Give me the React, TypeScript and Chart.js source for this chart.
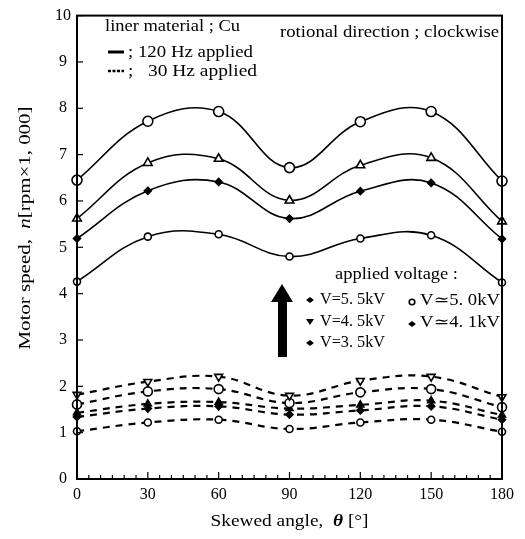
import React, { useEffect, useRef } from "react";
import { Chart, registerables } from "chart.js";
Chart.register(...registerables);

// ---- data ----
const angles = [0, 30, 60, 90, 120, 150, 180];
const xTickStep = 30;
const yTickStep = 1;
// 120 Hz applied (solid)
const s120_55 = [6.45, 7.72, 7.93, 6.72, 7.71, 7.93, 6.43];
const s120_50 = [5.62, 6.82, 6.91, 6.01, 6.77, 6.93, 5.56];
const s120_45 = [5.19, 6.22, 6.41, 5.62, 6.21, 6.39, 5.18];
const s120_35 = [4.26, 5.23, 5.28, 4.8, 5.19, 5.26, 4.24];
// 30 Hz applied (dashed)
const s30_55 = [1.82, 2.1, 2.21, 1.8, 2.12, 2.21, 1.77];
const s30_50 = [1.61, 1.89, 1.94, 1.64, 1.87, 1.94, 1.55];
const s30_45 = [1.43, 1.62, 1.66, 1.52, 1.6, 1.69, 1.38];
const s30_41 = [1.34, 1.52, 1.57, 1.39, 1.48, 1.57, 1.28];
const s30_35 = [1.03, 1.22, 1.28, 1.08, 1.22, 1.28, 1.02];

const SERIF = "'Liberation Serif', 'DejaVu Serif', serif";

function pts(vals: number[]) {
  return vals.map((v, i) => ({ x: angles[i], y: v }));
}

function mkSet(vals: number[], dashed: boolean, style: string, radius: number, fill: string, rotation = 0) {
  return {
    data: pts(vals),
    borderColor: "#000",
    borderWidth: dashed ? 2.2 : 1.6,
    borderDash: dashed ? [7, 6] : [],
    tension: 0.4,
    pointStyle: style,
    pointRadius: radius,
    pointRotation: rotation,
    pointBackgroundColor: fill,
    pointBorderColor: "#000",
    pointBorderWidth: 1.6,
    clip: false as any,
  };
}

type Part = { t: string; f: string };

// draws text parts starting at x (left) or centred at x, stretched horizontally to a target width
function drawFit(ctx: CanvasRenderingContext2D, parts: Part[], x: number, y: number, width: number, center = false) {
  let total = 0;
  for (const p of parts) {
    ctx.font = p.f;
    total += ctx.measureText(p.t).width;
  }
  const sx = width / total;
  ctx.save();
  ctx.translate(center ? x - width / 2 : x, y);
  ctx.scale(sx, 1);
  ctx.textAlign = "left";
  ctx.textBaseline = "middle";
  let cx = 0;
  for (const p of parts) {
    ctx.font = p.f;
    ctx.fillText(p.t, cx, 0);
    cx += ctx.measureText(p.t).width;
  }
  ctx.restore();
}

const F = (s: number, style = "") => `${style} ${s}px ${SERIF}`.trim();

const decor = {
  id: "decor",
  afterDraw(chart: any) {
    const ctx: CanvasRenderingContext2D = chart.ctx;
    const a = chart.chartArea;
    const xs = chart.scales.x;
    const ys = chart.scales.y;
    ctx.save();
    ctx.strokeStyle = "#000";
    ctx.fillStyle = "#000";
    // frame
    ctx.lineWidth = 2;
    ctx.strokeRect(a.left, a.top, a.right - a.left, a.bottom - a.top);
    // inward ticks
    ctx.lineWidth = 1.2;
    for (let v = 0; v <= 180; v += 5) {
      const px = xs.getPixelForValue(v);
      const len = v % xTickStep === 0 ? 7 : 4;
      ctx.beginPath();
      ctx.moveTo(px, a.bottom);
      ctx.lineTo(px, a.bottom - len);
      ctx.stroke();
    }
    for (let v = 0; v <= 10; v += yTickStep) {
      const py = ys.getPixelForValue(v);
      ctx.beginPath();
      ctx.moveTo(a.left, py);
      ctx.lineTo(a.left + 6, py);
      ctx.stroke();
    }
    // axis titles
    ctx.save();
    ctx.translate(26, 228);
    ctx.rotate(-Math.PI / 2);
    drawFit(ctx, [
      { t: "Motor speed,  ", f: F(17) },
      { t: "n", f: F(17, "italic") },
      { t: "[rpm×1, 000]", f: F(17) },
    ], 0, 0, 243, true);
    ctx.restore();
    drawFit(ctx, [
      { t: "Skewed angle,  ", f: F(17) },
      { t: "θ", f: F(17, "bold italic") },
      { t: " [°]", f: F(17) },
    ], (a.left + a.right) / 2, 522, 158, true);

    // annotations
    drawFit(ctx, [{ t: "liner material ; Cu", f: F(17) }], 105, 27, 135);
    drawFit(ctx, [{ t: "rotional direction ; clockwise", f: F(17) }], 280, 33, 219);
    drawFit(ctx, [{ t: "; 120 Hz applied", f: F(17) }], 128, 53, 125);
    drawFit(ctx, [{ t: ";   30 Hz applied", f: F(17) }], 128, 72, 129);
    ctx.lineWidth = 3;
    ctx.beginPath();
    ctx.moveTo(108, 52);
    ctx.lineTo(124, 52);
    ctx.stroke();
    ctx.lineWidth = 2.5;
    ctx.setLineDash([3, 1.5]);
    ctx.beginPath();
    ctx.moveTo(108, 71);
    ctx.lineTo(124, 71);
    ctx.stroke();
    ctx.setLineDash([]);

    drawFit(ctx, [{ t: "applied voltage :", f: F(17) }], 335, 275, 123);
    drawFit(ctx, [{ t: "V=5. 5kV", f: F(16) }], 320, 300, 65);
    drawFit(ctx, [{ t: "V=4. 5kV", f: F(16) }], 320, 322, 65);
    drawFit(ctx, [{ t: "V=3. 5kV", f: F(16) }], 320, 343, 65);
    drawFit(ctx, [{ t: "V≃5. 0kV", f: F(16) }], 420, 301, 80);
    drawFit(ctx, [{ t: "V≃4. 1kV", f: F(16) }], 420, 323, 80);

    // legend glyphs
    const diamond = (x: number, y: number, r: number) => {
      ctx.beginPath();
      ctx.moveTo(x - r * 1.3, y);
      ctx.lineTo(x, y - r);
      ctx.lineTo(x + r * 1.3, y);
      ctx.lineTo(x, y + r);
      ctx.closePath();
      ctx.fill();
    };
    diamond(310, 300, 3);
    ctx.beginPath();
    ctx.moveTo(306, 319);
    ctx.lineTo(314, 319);
    ctx.lineTo(310, 325);
    ctx.closePath();
    ctx.fill();
    diamond(310, 343, 3);
    ctx.lineWidth = 1.6;
    ctx.beginPath();
    ctx.arc(412, 302, 2.8, 0, Math.PI * 2);
    ctx.stroke();
    diamond(412, 324, 3);

    // arrow
    ctx.beginPath();
    ctx.moveTo(282, 284);
    ctx.lineTo(293, 302);
    ctx.lineTo(287, 302);
    ctx.lineTo(287, 357);
    ctx.lineTo(278, 357);
    ctx.lineTo(278, 302);
    ctx.lineTo(271, 302);
    ctx.closePath();
    ctx.fill();
    ctx.restore();
  },
};

export default function App() {
  const ref = useRef<HTMLCanvasElement | null>(null);
  useEffect(() => {
    if (!ref.current) return;
    const chart = new Chart(ref.current, {
      type: "line",
      data: {
        datasets: [
          mkSet(s120_55, false, "circle", 5, "#fff"),
          mkSet(s120_50, false, "triangle", 5, "#fff"),
          mkSet(s120_45, false, "rectRot", 3.5, "#000"),
          mkSet(s120_35, false, "circle", 3.5, "#fff"),
          mkSet(s30_55, true, "triangle", 4.5, "#fff", 180),
          mkSet(s30_50, true, "circle", 4.5, "#fff"),
          mkSet(s30_45, true, "triangle", 4, "#000"),
          mkSet(s30_41, true, "rectRot", 3.5, "#000"),
          mkSet(s30_35, true, "circle", 3.5, "#fff"),
        ] as any,
      },
      options: {
        animation: false,
        responsive: false,
        layout: { padding: { left: 37, right: 23, top: 13, bottom: 30 } },
        plugins: { legend: { display: false }, tooltip: { enabled: false } },
        scales: {
          x: {
            type: "linear",
            min: 0,
            max: 180,
            ticks: { stepSize: xTickStep, color: "#000", font: { family: SERIF, size: 16 }, padding: 6 },
            grid: { display: false, drawTicks: false },
            border: { display: false },
            afterFit: (s: any) => { s.height = 30; },
          },
          y: {
            min: 0,
            max: 10,
            ticks: { stepSize: yTickStep, color: "#000", font: { family: SERIF, size: 16 }, padding: 6, crossAlign: "center" },
            grid: { display: false, drawTicks: false },
            border: { display: false },
            afterFit: (s: any) => { s.width = 40; },
          },
        },
      } as any,
      plugins: [decor],
    });
    return () => chart.destroy();
  }, []);
  return (
    <div style={{ position: "absolute", left: 0, top: 0, width: 525, height: 539, background: "#fff" }}>
      <canvas ref={ref} width={525} height={539} />
    </div>
  );
}
